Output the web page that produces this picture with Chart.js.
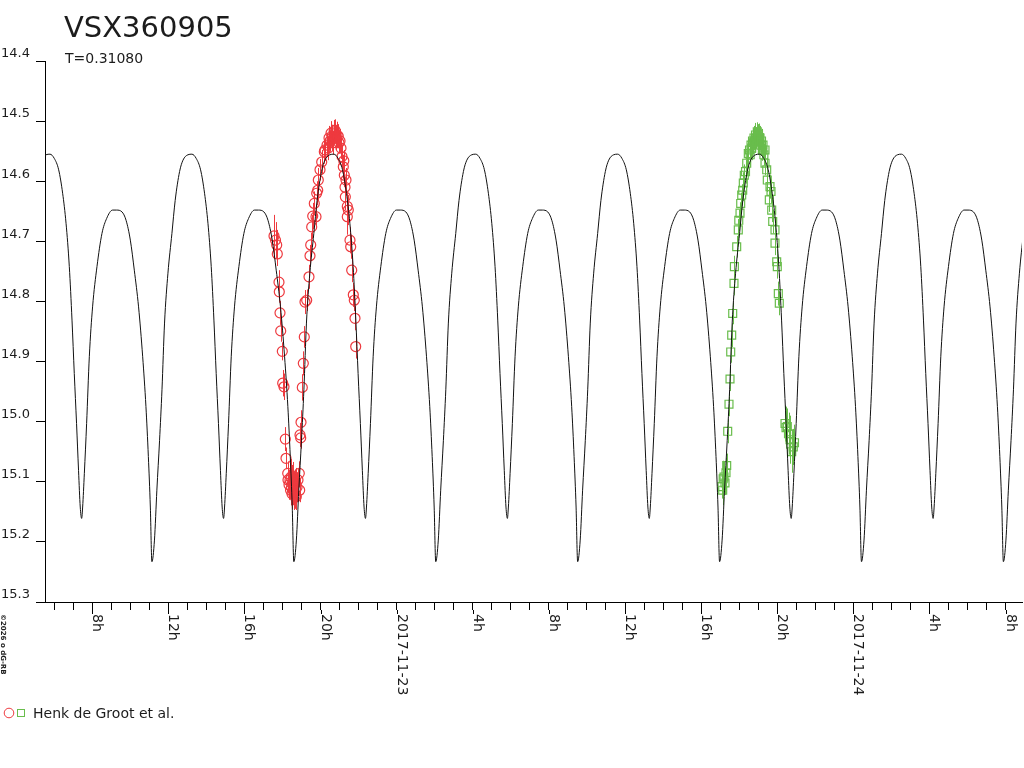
<!DOCTYPE html>
<html lang="en">
<head>
<meta charset="UTF-8">
<title>VSX360905</title>
<script src="https://cdn.jsdelivr.net/npm/chart.js"></script>
<style>
  html, body { margin: 0; padding: 0; background: #fff; }
  #wrap { width: 1024px; height: 768px; }
</style>
</head>
<body>
<div id="wrap"><canvas id="lc" width="1024" height="768"></canvas></div>
<script>
// time axis: hours counted from 2017-11-23 00:00
const X_MIN = -18.486;
const X_MAX = 32.867;

// period T = 0.31080 d, epoch of a primary minimum (hours)
const PERIOD_H = 0.31080 * 24;
const EPOCH_H = -12.867;

// one cycle of the fitted light curve (phase, magnitude)
const modelPhase = [0, 0.018, 0.035, 0.054, 0.071, 0.089, 0.113, 0.141, 0.164, 0.195, 0.219, 0.254, 0.282,
  0.312, 0.343, 0.371, 0.395, 0.418, 0.437, 0.453, 0.469, 0.483, 0.495, 0.505, 0.512, 0.524, 0.540, 0.559,
  0.582, 0.613, 0.648, 0.681, 0.723, 0.751, 0.789, 0.818, 0.848, 0.876, 0.906, 0.935, 0.958, 0.975, 0.989];
const modelMag = [15.233, 15.197, 15.114, 15.031, 14.947, 14.836, 14.753, 14.687, 14.632, 14.584, 14.565, 14.556, 14.555,
  14.562, 14.581, 14.620, 14.670, 14.742, 14.831, 14.920, 15.003, 15.081, 15.142, 15.161, 15.142, 15.086, 15.003, 14.892,
  14.809, 14.742, 14.687, 14.662, 14.648, 14.648, 14.651, 14.665, 14.698, 14.748, 14.809, 14.892, 14.975, 15.058, 15.142];
const modelCycles = [-1, 0, 1, 2, 3, 4, 5, 6];

// first night (red circles)
const redTime = [-6.449, -6.370, -6.307, -6.276, -6.187, -6.171, -6.134, -6.097, -6.013, -5.992, -5.924, -5.855, -5.819, -5.729,
  -5.714, -5.660, -5.608, -5.580, -5.556, -5.530, -5.503, -5.480, -5.451, -5.425, -5.398, -5.370, -5.346, -5.310, -5.277, -5.240, -5.188, -5.120, -5.099,
  -5.083, -5.046, -5.030, -4.962, -4.909, -4.857, -4.820, -4.731, -4.610, -4.557, -4.520, -4.468, -4.415, -4.331, -4.242, -4.205, -4.152, -4.121, -4.031, -3.942, -3.805, -3.769,
  -3.664, -3.595, -3.558, -3.506, -3.453, -3.401, -3.332, -3.296, -3.243, -3.191, -3.138, -3.070, -3.033, -2.980, -2.928,
  -2.875, -2.807, -2.780, -2.754, -2.717, -2.665, -2.700, -2.597, -2.544, -2.597, -2.455, -2.418, -2.365, -2.281, -2.229, -2.192, -2.155];
const redMag = [14.691, 14.698, 14.706, 14.721, 14.768, 14.784, 14.819, 14.849, 14.883, 14.936, 14.942, 15.029, 15.061, 15.086,
  15.097, 15.105, 15.097, 15.114, 15.092, 15.109, 15.120, 15.102, 15.114, 15.097, 15.117, 15.105, 15.125, 15.102, 15.125, 15.109, 15.097, 15.086, 15.114,
  15.022, 15.027, 15.001, 14.943, 14.903, 14.859, 14.801, 14.798, 14.759, 14.724, 14.706, 14.676, 14.658, 14.637, 14.659, 14.620, 14.615, 14.598, 14.581, 14.568, 14.551, 14.548,
  14.540, 14.545, 14.528, 14.533, 14.520, 14.528, 14.536, 14.518, 14.515, 14.528, 14.523, 14.525, 14.536, 14.533, 14.545,
  14.559, 14.576, 14.566, 14.590, 14.610, 14.598, 14.626, 14.642, 14.648, 14.659, 14.698, 14.709, 14.748, 14.789, 14.798, 14.828, 14.875];
const redErr = [0.035, 0.030, 0.025, 0.020, 0.020, 0.018, 0.020, 0.018, 0.015, 0.022, 0.022, 0.020, 0.018, 0.020,
  0.020, 0.025, 0.030, 0.025, 0.030, 0.030, 0.025, 0.030, 0.025, 0.030, 0.030, 0.025, 0.020, 0.025, 0.022, 0.025, 0.020, 0.020, 0.020,
  0.020, 0.018, 0.020, 0.022, 0.020, 0.018, 0.020, 0.018, 0.020, 0.018, 0.020, 0.020, 0.022, 0.020, 0.020, 0.020, 0.018, 0.020, 0.018, 0.020, 0.020, 0.018,
  0.020, 0.020, 0.020, 0.018, 0.020, 0.022, 0.020, 0.020, 0.018, 0.020, 0.022, 0.020, 0.018, 0.020, 0.018,
  0.020, 0.020, 0.018, 0.020, 0.018, 0.020, 0.022, 0.025, 0.025, 0.030, 0.022, 0.020, 0.020, 0.020, 0.018, 0.020, 0.020];

// second night (green squares)
const greenTime = [17.098, 17.135, 17.160, 17.204, 17.256, 17.309, 17.345, 17.398, 17.466, 17.519, 17.556, 17.608, 17.661, 17.729,
  17.750, 17.871, 17.955, 17.980, 18.045, 18.081, 18.134, 18.186, 18.218, 18.271, 18.334, 18.397, 18.481,
  18.544, 18.580, 18.623, 18.660, 18.702, 18.740, 18.780, 18.820, 18.859, 18.900, 18.954, 18.990, 19.017, 19.060, 19.096, 19.140, 19.175, 19.220, 19.254, 19.300, 19.359,
  19.359, 19.448, 19.479, 19.621, 19.674, 19.585, 19.711, 19.763, 19.884, 19.884, 19.974, 20.005, 20.058, 20.110,
  20.410, 20.463, 20.531, 20.594, 20.673, 20.762, 20.846, 20.909];
const greenMag = [15.108, 15.114, 15.095, 15.092, 15.102, 15.085, 15.073, 15.016, 14.971, 14.929, 14.884, 14.856, 14.820, 14.770,
  14.742, 14.709, 14.681, 14.665, 14.653, 14.637, 14.623, 14.615, 14.603, 14.590, 14.584, 14.570, 14.554,
  14.548, 14.556, 14.540, 14.545, 14.533, 14.536, 14.528, 14.533, 14.523, 14.528, 14.518, 14.525, 14.522, 14.533, 14.528, 14.540, 14.533, 14.548, 14.540, 14.556, 14.548,
  14.570, 14.581, 14.598, 14.609, 14.617, 14.631, 14.648, 14.667, 14.681, 14.703, 14.734, 14.742, 14.787, 14.803,
  15.003, 15.010, 15.008, 15.020, 15.030, 15.050, 15.042, 15.035];
const greenErr = [0.020, 0.025, 0.030, 0.025, 0.020, 0.025, 0.020, 0.020, 0.020, 0.020, 0.018, 0.020, 0.018, 0.020,
  0.018, 0.018, 0.018, 0.018, 0.018, 0.018, 0.018, 0.018, 0.018, 0.018, 0.020, 0.020, 0.020,
  0.020, 0.018, 0.020, 0.020, 0.020, 0.018, 0.020, 0.020, 0.020, 0.018, 0.016, 0.020, 0.018, 0.020, 0.020, 0.018, 0.020, 0.018, 0.020, 0.018, 0.020,
  0.020, 0.020, 0.020, 0.020, 0.020, 0.020, 0.020, 0.020, 0.020, 0.020, 0.020, 0.020, 0.020, 0.020,
  0.030, 0.035, 0.030, 0.035, 0.040, 0.035, 0.030, 0.030];

// labelled x ticks (every 4 hours)
const xLabelHours = [-16, -12, -8, -4, 0, 4, 8, 12, 16, 20, 24, 28, 32];
const xLabelTexts = ['8h', '12h', '16h', '20h', '2017-11-23', '4h', '8h', '12h', '16h', '20h', '2017-11-24', '4h', '8h'];

const RED = '#ee3a3f';
const GREEN = '#69bd4c';
const INK = '#1c1c1c';

Chart.defaults.font.family = '"DejaVu Sans", sans-serif';

const modelData = [];
modelCycles.forEach(k => {
  modelPhase.forEach((p, i) => modelData.push({ x: EPOCH_H + (k + p) * PERIOD_H, y: modelMag[i] }));
});
const redData = redTime.map((t, i) => ({ x: t, y: redMag[i] }));
const greenData = greenTime.map((t, i) => ({ x: t, y: greenMag[i] }));

const decor = {
  id: 'decor',
  beforeDatasetsDraw(chart) {
    const { ctx, chartArea: a, scales: { x, y } } = chart;
    ctx.save();
    ctx.beginPath();
    ctx.rect(a.left, a.top, a.right - a.left, a.bottom - a.top);
    ctx.clip();
    ctx.lineWidth = 1;
    [[redTime, redMag, redErr, RED], [greenTime, greenMag, greenErr, GREEN]].forEach(([tt, mm, ee, col]) => {
      ctx.strokeStyle = col;
      ctx.beginPath();
      tt.forEach((t, i) => {
        const px = Math.round(x.getPixelForValue(t)) + 0.5;
        ctx.moveTo(px, y.getPixelForValue(mm[i] - ee[i]));
        ctx.lineTo(px, y.getPixelForValue(mm[i] + ee[i]));
      });
      ctx.stroke();
    });
    ctx.restore();
  },
  afterDraw(chart) {
    const { ctx, chartArea: a, scales: { x } } = chart;
    ctx.save();
    ctx.fillStyle = INK;
    ctx.strokeStyle = '#000';
    ctx.lineWidth = 1;

    // longer marks and rotated labels on the 4-hour ticks
    ctx.font = '14px "DejaVu Sans"';
    ctx.textAlign = 'left';
    ctx.textBaseline = 'alphabetic';
    xLabelHours.forEach((h, i) => {
      const px = Math.round(x.getPixelForValue(h)) + 0.5;
      ctx.beginPath();
      ctx.moveTo(px, a.bottom + 8);
      ctx.lineTo(px, a.bottom + 12);
      ctx.stroke();
      ctx.save();
      ctx.translate(px + 0.5, a.bottom + 12);
      ctx.rotate(Math.PI / 2);
      ctx.fillText(xLabelTexts[i], 0, 0);
      ctx.restore();
    });

    // title and period
    ctx.font = '29px "DejaVu Sans"';
    ctx.fillText('VSX360905', 64, 37);
    ctx.font = '14px "DejaVu Sans"';
    ctx.fillText('T=0.31080', 65, 63);

    // small vertical credit
    ctx.save();
    ctx.font = 'bold 7px "DejaVu Sans"';
    ctx.translate(1, 614);
    ctx.rotate(Math.PI / 2);
    ctx.fillText('\u00a92026 o dG-RB', 0, 0);
    ctx.restore();

    // legend
    ctx.strokeStyle = RED;
    ctx.beginPath();
    ctx.arc(9, 713, 4.8, 0, Math.PI * 2);
    ctx.stroke();
    ctx.strokeStyle = GREEN;
    ctx.strokeRect(17.5, 709.5, 7, 7);
    ctx.font = '14px "DejaVu Sans"';
    ctx.fillText('Henk de Groot et al.', 33, 718);
    ctx.restore();
  }
};

new Chart(document.getElementById('lc'), {
  type: 'scatter',
  data: {
    datasets: [
      {
        label: 'model',
        data: modelData,
        showLine: true,
        borderColor: '#111',
        borderWidth: 1,
        pointRadius: 0,
        cubicInterpolationMode: 'monotone'
      },
      {
        label: 'Henk de Groot et al.',
        data: redData,
        pointStyle: 'circle',
        pointRadius: 5,
        borderColor: RED,
        backgroundColor: 'rgba(0,0,0,0)',
        borderWidth: 1.2
      },
      {
        label: 'Henk de Groot et al. (2)',
        data: greenData,
        pointStyle: 'rect',
        pointRadius: 5.6,
        borderColor: GREEN,
        backgroundColor: 'rgba(0,0,0,0)',
        borderWidth: 1.2
      }
    ]
  },
  options: {
    responsive: false,
    devicePixelRatio: 1,
    animation: false,
    events: [],
    layout: { autoPadding: false, padding: { top: 61, right: 2, left: 0, bottom: 0 } },
    plugins: {
      legend: { display: false },
      tooltip: { enabled: false },
      title: { display: false }
    },
    scales: {
      x: {
        type: 'linear',
        min: X_MIN,
        max: X_MAX,
        afterFit(scale) { scale.height = 166; scale.paddingLeft = 0; scale.paddingRight = 0; },
        border: { display: true, color: '#000', width: 1 },
        grid: { drawOnChartArea: false, drawTicks: true, tickLength: 8, color: '#000', lineWidth: 1 },
        ticks: { stepSize: 1, autoSkip: false, includeBounds: false, maxRotation: 0, callback: () => '' }
      },
      y: {
        type: 'linear',
        reverse: true,
        min: 14.4,
        max: 15.3,
        afterFit(scale) { scale.width = 45; },
        border: { display: true, color: '#000', width: 1 },
        grid: { drawOnChartArea: false, drawTicks: true, tickLength: 9, color: '#000', lineWidth: 1 },
        ticks: {
          stepSize: 0.1,
          padding: 6,
          labelOffset: -7,
          color: INK,
          font: { size: 13 },
          callback: v => v.toFixed(1)
        }
      }
    }
  },
  plugins: [decor]
});
</script>
</body>
</html>
